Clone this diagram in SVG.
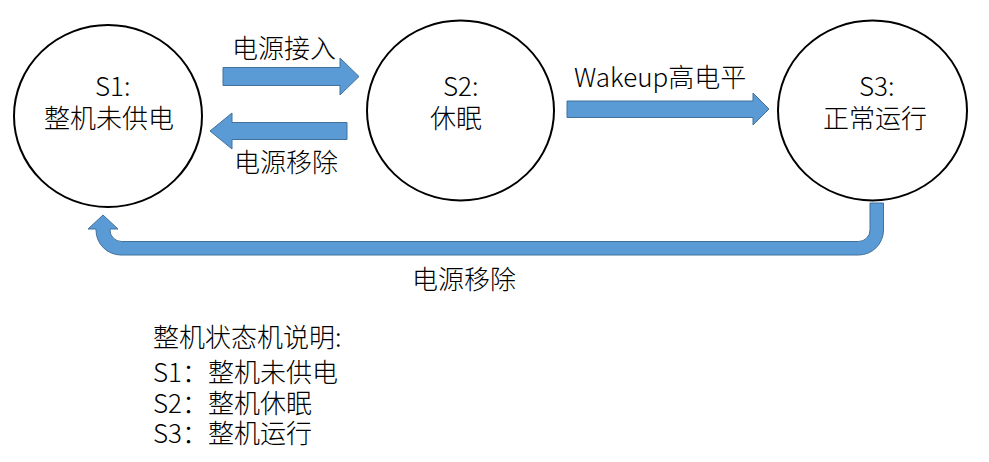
<svg xmlns="http://www.w3.org/2000/svg" width="989" height="462" viewBox="0 0 989 462">
<style>
text{font-family:"Noto Sans CJK SC","Noto Sans",sans-serif;font-size:26px;fill:#000;font-weight:300}
.node ellipse{fill:#fff;stroke:#000;stroke-width:2}
.arrow{fill:#5B9BD5;stroke:#41719C;stroke-width:1}
</style>
<rect width="989" height="462" fill="#fff"/>
<g id="s1" class="node">
<ellipse cx="108" cy="116" rx="94" ry="91"/>
<text x="95" y="96">S1:</text>
<text x="44" y="128">整机未供电</text>
</g>
<g id="s2" class="node">
<ellipse cx="460.5" cy="110.5" rx="93.5" ry="90"/>
<text x="443" y="96">S2:</text>
<text x="430" y="128">休眠</text>
</g>
<g id="s3" class="node">
<ellipse cx="872.5" cy="110.5" rx="94.5" ry="90"/>
<text x="859" y="96">S3:</text>
<text x="823" y="128">正常运行</text>
</g>
<g id="connectors">
<path class="arrow" d="M223,67.5 H340 V58 L359,76.5 L340,95 V85.5 H223 Z"/>
<path class="arrow" d="M347,122.5 H232 V113 L210,131 L232,149 V139.5 H347 Z"/>
<path class="arrow" d="M567,101 H753 V93 L769,109 L753,125 V117.5 H567 Z"/>
<path class="arrow" d="M870,203 L883.5,203 L883.5,230 A25,25 0 0 1 858.5,255 L121,255 A25,25 0 0 1 96,230 L96,229 L88,229 L103,215 L118,229 L110,229 L110,230 A11.5,11.5 0 0 0 121.5,241.5 L858.5,241.5 A11.5,11.5 0 0 0 870,230 Z"/>
<text x="232" y="58">电源接入</text>
<text x="234" y="172">电源移除</text>
<text x="574" y="87">Wakeup高电平</text>
<text x="412" y="289">电源移除</text>
</g>
<g id="legend">
<text x="153" y="347">整机状态机说明:</text>
<text x="153" y="382">S1：整机未供电</text>
<text x="153" y="413">S2：整机休眠</text>
<text x="153" y="443">S3：整机运行</text>
</g>
</svg>
